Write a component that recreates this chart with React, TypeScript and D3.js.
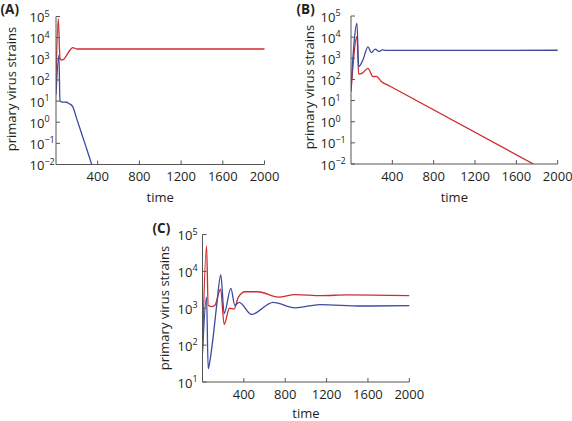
import React from "react";
import * as d3 from "d3";

// ---- data (time, value) ----
const redA_t = [0, 22, 38, 55, 80, 103, 135, 160, 200, 2000];
const redA_v = [100, 80000, 1050, 870, 1000, 1500, 2600, 3400, 2900, 2900];
const blueA_t = [0, 28, 38, 60, 103, 125, 140, 160, 200, 250, 300, 343];
const blueA_v = [20, 1500, 10, 9, 8.8, 7.5, 7, 5.5, 1.4, 0.25, 0.045, 0.01];

const blueB_t = [0, 58, 74, 116, 164, 197, 235, 271, 303, 340, 2000];
const blueB_v = [40, 45000, 400, 850, 3500, 1860, 2700, 2100, 2500, 2350, 2400];
const redB_t = [0, 58, 74, 110, 164, 213, 245, 293, 374, 1764];
const redB_v = [26, 10500, 180, 200, 330, 135, 140, 80, 49, 0.01];

const redC_t = [0, 39, 55, 90, 120, 175, 210, 260, 305, 347, 412, 537, 734, 896, 1150, 1400, 2000];
const redC_v = [80, 49000, 1200, 1100, 1200, 3300, 365, 1000, 950, 2000, 2800, 2800, 2000, 2350, 2200, 2300, 2200];
const blueC_t = [0, 39, 55, 70, 105, 137, 177, 210, 274, 313, 355, 474, 684, 894, 1136, 1540, 2000];
const blueC_v = [60, 2000, 23, 35, 185, 1200, 8000, 720, 3450, 1200, 1450, 680, 1450, 1030, 1260, 1150, 1180];

const xTicks = [400, 800, 1200, 1600, 2000];
const expAB = [-2, -1, 0, 1, 2, 3, 4, 5];
const expC = [1, 2, 3, 4, 5];
const panelLabels = ["(A)", "(B)", "(C)"];
const yTitle = "primary virus strains";
const xTitle = "time";

const RED = "#d12a2f";
const BLUE = "#3d4a9e";
const AXIS = "#555";
const FONT = "'Open Sans', sans-serif";

type Layout = {
  x0: number; x1: number; yTop: number; yBot: number;
  labX: number; labY: number; tickLabX: number; titleX: number; titleY: number;
  timeY: number; tickLabDY: number;
};

function zip(t: number[], v: number[]) {
  return t.map((tt, i) => [tt, v[i]] as [number, number]);
}

function Panel({ id, L, exps, series, label }: {
  id: string; L: Layout; exps: number[];
  series: { t: number[]; v: number[]; color: string }[]; label: string;
}) {
  const x = d3.scaleLinear().domain([0, 2000]).range([L.x0, L.x1]);
  const y = d3.scaleLog().domain([Math.pow(10, exps[0]), Math.pow(10, exps[exps.length - 1])]).range([L.yBot, L.yTop]);
  const line = d3.line<[number, number]>()
    .x(d => x(d[0]))
    .y(d => y(d[1]))
    .curve(d3.curveMonotoneX);
  return (
    <g fontFamily={FONT} fill="#231f20">
      <defs>
        <clipPath id={"clip" + id}>
          <rect x={L.x0} y={L.yTop - 2} width={L.x1 - L.x0 + 2} height={L.yBot - L.yTop + 2} />
        </clipPath>
      </defs>
      <g clipPath={`url(#clip${id})`}>
        {series.map((s, i) => (
          <path key={i} d={line(zip(s.t, s.v)) || ""} fill="none" stroke={s.color} strokeWidth={1.3} />
        ))}
      </g>
      {/* axes */}
      <line x1={L.x0} x2={L.x0} y1={L.yTop} y2={L.yBot} stroke={AXIS} strokeWidth={1} />
      <line x1={L.x0} x2={L.x1} y1={L.yBot} y2={L.yBot} stroke={AXIS} strokeWidth={1} />
      {exps.map(e => (
        <g key={"y" + e}>
          <line x1={L.x0} x2={L.x0 + 4} y1={y(Math.pow(10, e))} y2={y(Math.pow(10, e))} stroke={AXIS} />
          <text x={L.tickLabX} y={y(Math.pow(10, e)) + 5.5} fontSize={13}>
            10<tspan fontSize={9} dy={-5.5}>{e < 0 ? "\u2212" + Math.abs(e) : String(e)}</tspan>
          </text>
        </g>
      ))}
      {xTicks.map(t => (
        <g key={"x" + t}>
          <line x1={x(t)} x2={x(t)} y1={L.yBot} y2={L.yBot - 4} stroke={AXIS} />
          <text x={x(t)} y={L.yBot + L.tickLabDY} fontSize={13} textAnchor="middle">{t}</text>
        </g>
      ))}
      <text x={(L.x0 + L.x1) / 2} y={L.timeY} fontSize={13} textAnchor="middle">{xTitle}</text>
      <text transform={`translate(${L.titleX},${L.titleY}) rotate(-90)`} fontSize={13} textAnchor="middle">{yTitle}</text>
      <text x={L.labX} y={L.labY} fontSize={13.5} fontWeight="bold">{label}</text>
    </g>
  );
}

export default function App() {
  const LA: Layout = { x0: 56, x1: 264.5, yTop: 16.5, yBot: 164.5, labX: 0.5, labY: 14, tickLabX: 29.5, titleX: 16, titleY: 89, timeY: 201.5, tickLabDY: 16.5 };
  const LB: Layout = { x0: 351, x1: 557.7, yTop: 16, yBot: 164, labX: 296.5, labY: 14, tickLabX: 320.5, titleX: 314, titleY: 87, timeY: 201.5, tickLabDY: 16.5 };
  const LC: Layout = { x0: 202.5, x1: 409.3, yTop: 234.5, yBot: 382, labX: 152.5, labY: 233, tickLabX: 177.5, titleX: 169, titleY: 308, timeY: 418, tickLabDY: 16.5 };
  return (
    <svg width={572} height={421} style={{ position: "absolute", left: 0, top: 0, background: "#fff" }}>
      <rect width={572} height={421} fill="#fff" />
      <Panel id="A" L={LA} exps={expAB} label={panelLabels[0]}
        series={[{ t: redA_t, v: redA_v, color: RED }, { t: blueA_t, v: blueA_v, color: BLUE }]} />
      <Panel id="B" L={LB} exps={expAB} label={panelLabels[1]}
        series={[{ t: redB_t, v: redB_v, color: RED }, { t: blueB_t, v: blueB_v, color: BLUE }]} />
      <Panel id="C" L={LC} exps={expC} label={panelLabels[2]}
        series={[{ t: redC_t, v: redC_v, color: RED }, { t: blueC_t, v: blueC_v, color: BLUE }]} />
    </svg>
  );
}
